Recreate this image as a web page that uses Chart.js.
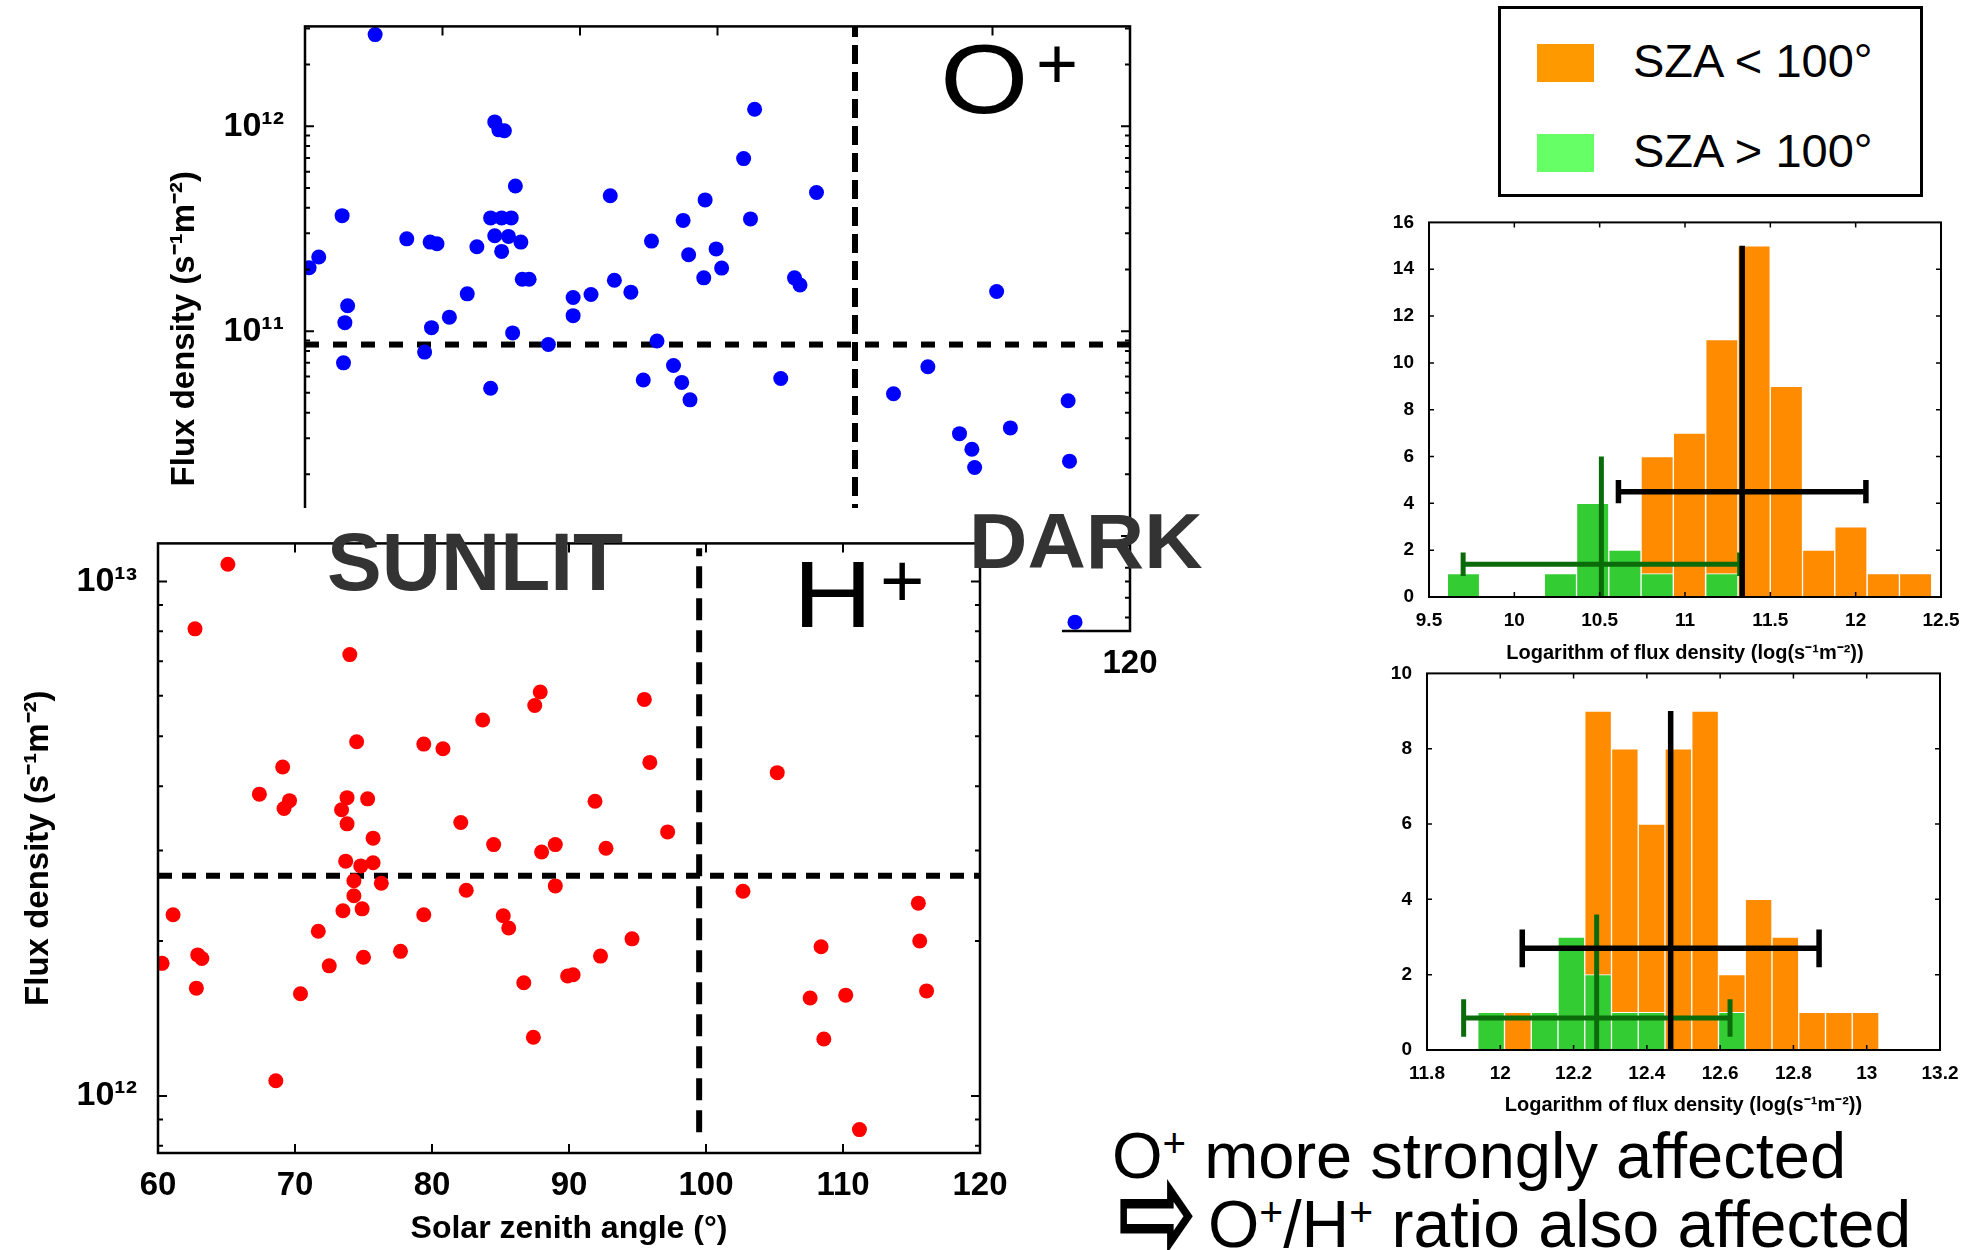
<!DOCTYPE html>
<html>
<head>
<meta charset="utf-8">
<script src="https://cdn.jsdelivr.net/npm/chart.js@4.4.1/dist/chart.umd.min.js"></script>
<style>
  body { margin: 0; background: #fff; }
  #page { position: relative; width: 1982px; height: 1250px; overflow: hidden; background: #fff;
          font-family: 'Liberation Sans', Arial, sans-serif; }
  canvas { position: absolute; }
  .t { position: absolute; line-height: 1; white-space: nowrap; color: #000; z-index: 5; transform-origin: left top; }
  .sp { font-size: 0.62em; position: relative; top: -0.52em; }
  #cover { position: absolute; left: 0; top: 508px; width: 1062px; height: 742px; background: #fff; z-index: 2; }
  #legend { position: absolute; left: 1498px; top: 6px; width: 425px; height: 191px; border: 3px solid #000;
            box-sizing: border-box; background: #fff; }
  .sw { position: absolute; width: 57px; height: 38px; }
</style>
</head>
<body>
<div id="page">
  <canvas id="oChart" style="z-index:1"></canvas>
  <div id="cover"></div>
  <canvas id="hChart" style="z-index:3"></canvas>
  <canvas id="oHist" style="z-index:1"></canvas>
  <canvas id="hHist" style="z-index:1"></canvas>

  <div id="legend"></div>
  <div class="sw" style="left:1537px;top:44px;background:#FF9900;"></div>
  <div class="sw" style="left:1537px;top:134px;background:#66FF66;"></div>
  <div class="t" style="left:1633px;top:37px;font-size:47px;">SZA &lt; 100°</div>
  <div class="t" style="left:1633px;top:127px;font-size:47px;">SZA &gt; 100°</div>

  <div class="t" style="left:940px;top:30px;font-size:98px;transform:scaleX(1.16);">O</div>
  <div class="t" style="left:1036px;top:27px;font-size:72px;">+</div>
  <div class="t" style="left:793px;top:547px;font-size:95px;transform:scaleX(1.16);">H</div>
  <div class="t" style="left:880px;top:543px;font-size:76px;">+</div>

  <div class="t" style="left:327px;top:521px;font-size:82px;font-weight:bold;color:#333;">SUNLIT</div>
  <div class="t" style="left:969px;top:503px;font-size:77px;font-weight:bold;color:#333;transform:scaleX(1.05);">DARK</div>

  <div class="t" style="left:1112px;top:1123px;font-size:65px;">O<span class="sp">+</span> more strongly affected</div>
  <div class="t" style="left:1117px;top:1143px;font-size:96px;font-family:'DejaVu Sans';font-weight:bold;transform:scaleY(1.45);">⇨</div>
  <div class="t" style="left:1208px;top:1191px;font-size:66px;">O<span class="sp">+</span>/H<span class="sp">+</span> ratio also affected</div>
</div>

<script>
// O+ flux density vs solar zenith angle
const oSza = [65.1, 60.3, 61.0, 62.7, 63.1, 62.9, 62.8, 67.4, 69.1, 69.6, 69.2, 68.7, 70.5, 71.8, 72.5, 73.5, 74.3, 75.0,
  73.8, 74.8, 74.3, 75.7, 75.3, 73.8, 74.1, 74.5, 75.8, 76.3, 75.1, 73.5, 77.7, 79.5, 79.5, 80.8, 82.2, 82.5, 83.7,
  85.2, 85.6, 86.8, 84.6, 87.4, 88.0, 87.5, 89.1, 87.9, 89.9, 89.0, 90.3, 91.9, 92.7, 92.4, 95.6, 96.0, 94.6, 97.2,
  105.3, 102.8, 110.3, 107.6, 108.5, 108.7, 111.3, 115.5, 115.6, 116.0];
const oFlux = [2.80e12, 2.04e11, 2.30e11, 3.66e11, 1.33e11, 1.10e11, 7.0e10, 2.82e11, 2.72e11, 2.67e11, 1.04e11, 7.9e10,
  1.17e11, 1.52e11, 2.58e11, 3.57e11, 3.57e11, 3.57e11, 2.92e11, 2.90e11, 2.45e11, 2.72e11, 5.11e11, 1.05e12, 9.6e11,
  9.5e11, 1.79e11, 1.79e11, 9.8e10, 5.26e10, 8.6e10, 1.46e11, 1.19e11, 1.51e11, 4.58e11, 1.77e11, 1.55e11, 2.75e11,
  8.95e10, 6.8e10, 5.77e10, 5.62e10, 4.62e10, 3.47e11, 4.37e11, 2.36e11, 2.52e11, 1.82e11, 2.03e11, 6.95e11, 1.21e12,
  3.53e11, 1.82e11, 1.68e11, 5.87e10, 4.75e11, 6.7e10, 4.95e10, 1.56e11, 3.16e10, 2.65e10, 2.16e10, 3.37e10, 4.57e10,
  2.32e10, 3.8e9];

// H+ flux density vs solar zenith angle
const hSza = [65.1, 62.7, 74.0, 87.9, 87.5, 95.5, 83.7, 74.5, 79.4, 80.8, 95.9, 69.1, 67.4, 69.6, 69.2, 73.8, 75.3, 73.4,
  73.8, 75.7, 82.1, 91.9, 97.2, 84.5, 88.0, 89.0, 92.7, 73.7, 74.8, 75.7, 74.3, 76.3, 74.3, 82.5, 89.0, 61.1, 73.5,
  74.9, 79.4, 85.2, 85.6, 71.7, 94.6, 62.9, 63.2, 60.3, 72.5, 75.0, 77.7, 92.3, 62.8, 70.4, 86.7, 89.9, 90.3, 87.4,
  68.6, 105.2, 102.7, 115.5, 115.6, 116.1, 108.4, 107.6, 110.2, 108.6, 111.2];
const hFlux = [1.08e13, 8.09e12, 7.21e12, 6.10e12, 5.74e12, 5.90e12, 5.38e12, 4.88e12, 4.83e12, 4.73e12, 4.45e12,
  4.36e12, 3.86e12, 3.75e12, 3.62e12, 3.80e12, 3.78e12, 3.60e12, 3.38e12, 3.17e12, 3.40e12, 3.74e12, 3.26e12, 3.08e12,
  2.98e12, 3.08e12, 3.03e12, 2.86e12, 2.80e12, 2.84e12, 2.62e12, 2.59e12, 2.45e12, 2.51e12, 2.56e12, 2.25e12, 2.29e12,
  2.31e12, 2.25e12, 2.24e12, 2.12e12, 2.09e12, 2.02e12, 1.88e12, 1.85e12, 1.81e12, 1.79e12, 1.86e12, 1.91e12, 1.87e12,
  1.62e12, 1.58e12, 1.66e12, 1.71e12, 1.72e12, 1.30e12, 1.07e12, 4.25e12, 2.50e12, 2.37e12, 2.00e12, 1.60e12, 1.95e12,
  1.55e12, 1.57e12, 1.29e12, 8.6e11];

// threshold lines (SZA split and median flux)
const oSplit = [100, 8.6e10];
const hSplit = [99.5, 2.68e12];

// histograms of log10 flux: bin centres and counts
const oBins = [9.702, 9.891, 10.080, 10.270, 10.459, 10.648, 10.837, 11.026, 11.216, 11.405, 11.594, 11.783, 11.972, 12.162, 12.351];
const oSunCounts = [0, 0, 0, 0, 0, 0, 6, 7, 11, 15, 9, 2, 3, 1, 1];
const oDarkCounts = [1, 0, 0, 1, 4, 2, 1, 0, 1, 0, 0, 0, 0, 0, 0];
const hBins = [11.975, 12.048, 12.121, 12.194, 12.267, 12.340, 12.413, 12.486, 12.559, 12.632, 12.705, 12.778, 12.851, 12.924, 12.997];
const hSunCounts = [0, 1, 0, 0, 9, 8, 6, 8, 9, 2, 4, 3, 1, 1, 1];
const hDarkCounts = [1, 0, 1, 3, 2, 1, 1, 0, 0, 1, 0, 0, 0, 0, 0];

// mean, spread low, spread high, bar level, mean line height  [sunlit, dark]
const oMean = [11.335, 10.51], oLow = [10.61, 9.70], oHigh = [12.06, 11.32], oLevel = [4.5, 1.4], oTop = [15, 6];
const hMean = [12.465, 12.263], hLow = [12.06, 11.90], hHigh = [12.87, 12.627], hLevel = [2.7, 0.85], hTop = [9, 3.6];

// tick labels
const sceneTicks = [60, 70, 80, 90, 100, 110, 120];
const oLogTicks = [1e10, 1e11, 1e12];
const hLogTicks = [1e12, 1e13];
const oHistX = [9.5, 10, 10.5, 11, 11.5, 12, 12.5];
const oHistY = [0, 2, 4, 6, 8, 10, 12, 14, 16];
const hHistX = [11.8, 12, 12.2, 12.4, 12.6, 12.8, 13, 13.2];
const hHistY = [0, 2, 4, 6, 8, 10];

const SUN = '#FF8C00', DARKC = '#33CC33', ERRDARK = '#0B6B0B';
const SUP = { '0': '⁰', '1': '¹', '2': '²', '3': '³', '4': '⁴', '5': '⁵', '6': '⁶', '7': '⁷', '8': '⁸', '9': '⁹' };
const fluxTitle = 'Flux density (s⁻¹m⁻²)';
const logTitle = 'Logarithm of flux density (log(s⁻¹m⁻²))';

Chart.defaults.font.family = "'Liberation Sans', Arial, sans-serif";
Chart.defaults.color = '#000';

function powLabel(v) {
  const e = Math.round(Math.log10(v));
  return '10' + String(e).split('').map(c => SUP[c]).join('');
}

function logMinors(lo, hi) {
  const out = [];
  for (let e = Math.floor(Math.log10(lo)); e <= Math.ceil(Math.log10(hi)); e++) {
    for (let k = 2; k <= 9; k++) {
      const v = k * Math.pow(10, e);
      if (v > lo && v < hi) out.push(v);
    }
  }
  return out;
}

// box frame with inward ticks on all four sides
function frame(o) {
  return {
    id: 'frame',
    afterDatasetsDraw(chart) {
      const { ctx, chartArea: a } = chart;
      const xs = chart.scales.x, ys = chart.scales.y;
      ctx.save();
      ctx.strokeStyle = '#000';
      ctx.lineWidth = o.tickWidth;
      ctx.beginPath();
      const xt = (vals, len) => vals.forEach(v => {
        const p = xs.getPixelForValue(v);
        ctx.moveTo(p, a.bottom); ctx.lineTo(p, a.bottom - len);
        ctx.moveTo(p, a.top); ctx.lineTo(p, a.top + len);
      });
      const yt = (vals, len) => vals.forEach(v => {
        const p = ys.getPixelForValue(v);
        ctx.moveTo(a.left, p); ctx.lineTo(a.left + len, p);
        ctx.moveTo(a.right, p); ctx.lineTo(a.right - len, p);
      });
      xt(o.x || [], o.major);
      yt(o.y || [], o.major);
      yt(o.yMinor || [], o.minor);
      ctx.stroke();
      ctx.lineWidth = o.lineWidth;
      ctx.strokeRect(a.left, a.top, a.right - a.left, a.bottom - a.top);
      ctx.restore();
    }
  };
}

// build a chart so that its plot area lands on the given page box
function place(id, plot, m, makeConfig) {
  const cv = document.getElementById(id);
  const pw = plot.r - plot.l, ph = plot.b - plot.t;
  let w = pw + m.l + m.r, h = ph + m.t + m.b;
  let chart;
  for (let pass = 0; pass < 3; pass++) {
    cv.width = w; cv.height = h;
    cv.style.width = w + 'px'; cv.style.height = h + 'px';
    chart = new Chart(cv, makeConfig());
    const a = chart.chartArea;
    const dw = pw - (a.right - a.left), dh = ph - (a.bottom - a.top);
    if (Math.abs(dw) < 0.5 && Math.abs(dh) < 0.5) break;
    if (pass < 2) { chart.destroy(); w += dw; h += dh; }
  }
  const a = chart.chartArea;
  cv.style.left = (plot.l - a.left) + 'px';
  cv.style.top = (plot.t - a.top) + 'px';
  return chart;
}

function scatterConfig(sza, flux, color, split, yMin, yMax, yTicks, m, vLine, dashH, dashV, xTitle) {
  return () => ({
    type: 'scatter',
    data: {
      datasets: [
        { data: sza.map((x, i) => ({ x, y: flux[i] })), backgroundColor: color, borderWidth: 0,
          pointRadius: 7.5, pointHoverRadius: 7.5, order: 0 },
        { data: [{ x: 60, y: split[1] }, { x: 120, y: split[1] }], showLine: true, borderColor: '#000',
          borderWidth: 6, borderDash: dashH, pointRadius: 0, order: 1 },
        { data: [{ x: split[0], y: vLine[0] }, { x: split[0], y: vLine[1] }], showLine: true, borderColor: '#000',
          borderWidth: 6, borderDash: dashV, pointRadius: 0, order: 1 }
      ]
    },
    options: {
      responsive: false, animation: false, devicePixelRatio: 1, events: [],
      layout: { padding: { top: m.t, right: m.r, left: 0, bottom: 0 } },
      plugins: { legend: { display: false }, tooltip: { enabled: false } },
      scales: {
        x: {
          type: 'linear', min: 60, max: 120,
          grid: { display: false }, border: { display: false },
          afterBuildTicks: s => { s.ticks = sceneTicks.map(v => ({ value: v })); },
          afterFit: s => { s.height = m.b; },
          ticks: { padding: 5, font: { size: 33, weight: 'bold' }, maxRotation: 0 },
          title: { display: !!xTitle, text: xTitle || '', padding: 0, font: { size: 32, weight: 'bold' } }
        },
        y: {
          type: 'logarithmic', min: yMin, max: yMax,
          grid: { display: false }, border: { display: false },
          afterBuildTicks: s => { s.ticks = yTicks.map(v => ({ value: v })); },
          afterFit: s => { s.width = m.l; },
          ticks: { padding: 13, font: { size: 34, weight: 'bold' }, callback: v => powLabel(v) },
          title: { display: true, text: fluxTitle, padding: 0, font: { size: 33, weight: 'bold' } }
        }
      }
    },
    plugins: [frame({ x: sceneTicks.slice(1, -1), y: yTicks, yMinor: logMinors(yMin, yMax),
                      major: 9, minor: 5, lineWidth: 2.5, tickWidth: 2 })]
  });
}

function errBars(mean, low, high, level, top, color, width) {
  const base = { type: 'line', borderColor: color, borderWidth: width, pointRadius: 0, order: 0, borderCapStyle: 'butt' };
  return [
    { ...base, data: [{ x: mean, y: 0 }, { x: mean, y: top }] },
    { ...base, data: [{ x: low, y: level }, { x: high, y: level }] },
    { ...base, data: [{ x: low, y: level - 0.5 }, { x: low, y: level + 0.5 }] },
    { ...base, data: [{ x: high, y: level - 0.5 }, { x: high, y: level + 0.5 }] }
  ];
}

function histConfig(bins, sun, dark, mean, low, high, level, top, xTicks, yTicks, m) {
  return () => ({
    type: 'bar',
    data: {
      datasets: [
        ...errBars(mean[0], low[0], high[0], level[0], top[0], '#000', 5.5),
        ...errBars(mean[1], low[1], high[1], level[1], top[1], ERRDARK, 5),
        { data: bins.map((x, i) => ({ x, y: dark[i] })), backgroundColor: DARKC, borderColor: '#fff', borderWidth: 1,
          barPercentage: 1, categoryPercentage: 1, grouped: false, order: 1 },
        { data: bins.map((x, i) => ({ x, y: sun[i] })), backgroundColor: SUN, borderColor: '#fff', borderWidth: 1,
          barPercentage: 1, categoryPercentage: 1, grouped: false, order: 2 }
      ]
    },
    options: {
      responsive: false, animation: false, devicePixelRatio: 1, events: [],
      layout: { padding: { top: m.t, right: m.r, left: 0, bottom: 0 } },
      plugins: { legend: { display: false }, tooltip: { enabled: false } },
      scales: {
        x: {
          type: 'linear', min: xTicks[0], max: xTicks[xTicks.length - 1], offset: false,
          grid: { display: false }, border: { display: false },
          afterBuildTicks: s => { s.ticks = xTicks.map(v => ({ value: v })); },
          afterFit: s => { s.height = m.b; },
          ticks: { padding: 4, font: { size: 19, weight: 'bold' }, maxRotation: 0, callback: v => String(v) },
          title: { display: true, text: logTitle, padding: 0, font: { size: 20, weight: 'bold' } }
        },
        y: {
          min: yTicks[0], max: yTicks[yTicks.length - 1],
          grid: { display: false }, border: { display: false },
          afterBuildTicks: s => { s.ticks = yTicks.map(v => ({ value: v })); },
          afterFit: s => { s.width = m.l; },
          ticks: { padding: 7, font: { size: 19, weight: 'bold' } }
        }
      }
    },
    plugins: [frame({ x: xTicks.slice(1, -1), y: yTicks.slice(1, -1), major: 5, minor: 0, lineWidth: 2, tickWidth: 1.5 })]
  });
}

// O+ panel (partly hidden under the H+ panel)
const oM = { l: 140, t: 20, r: 40, b: 52 };
place('oChart', { l: 305, t: 26, r: 1130, b: 631 }, oM,
  scatterConfig(oSza, oFlux, '#0000FF', oSplit, 3.44e9, 3.07e12, oLogTicks, oM, [3.44e9, 3.07e12], [14, 14], [19, 8], null));

// H+ panel
const hM = { l: 139, t: 20, r: 40, b: 95 };
place('hChart', { l: 158, t: 543, r: 980, b: 1153 }, hM,
  scatterConfig(hSza, hFlux, '#FF0000', hSplit, 7.745e11, 1.186e13, hLogTicks, hM, [8.5e11, 1.16e13], [14, 10], [22, 10],
    'Solar zenith angle (°)'));

// histograms
const histM = { l: 60, t: 15, r: 30, b: 68 };
place('oHist', { l: 1429, t: 222, r: 1941, b: 597 }, histM,
  histConfig(oBins, oSunCounts, oDarkCounts, oMean, oLow, oHigh, oLevel, oTop, oHistX, oHistY, histM));
const histM2 = { l: 60, t: 15, r: 30, b: 67 };
place('hHist', { l: 1427, t: 673, r: 1940, b: 1050 }, histM2,
  histConfig(hBins, hSunCounts, hDarkCounts, hMean, hLow, hHigh, hLevel, hTop, hHistX, hHistY, histM2));
</script>
</body>
</html>
